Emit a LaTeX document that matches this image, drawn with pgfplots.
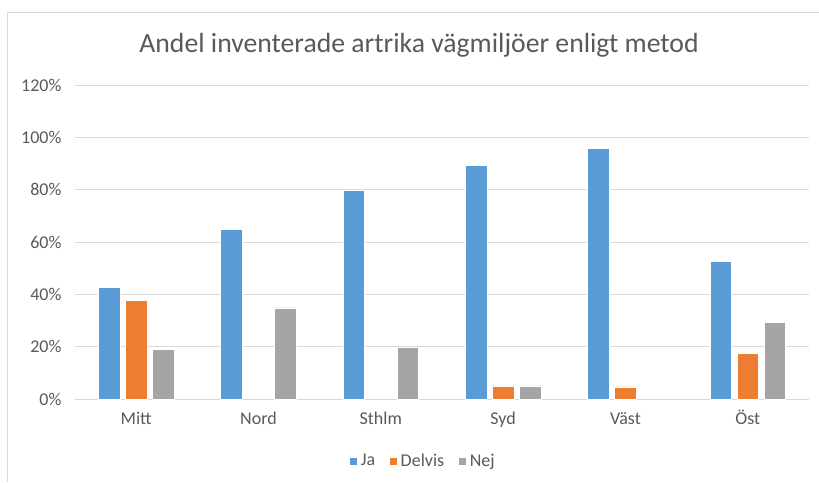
\documentclass[border=0pt]{standalone}
\usepackage{pgfplots}
\pgfplotsset{compat=1.18}
\usepackage{fontspec}
\setmainfont{Carlito}
\definecolor{cJa}{HTML}{5B9BD5}
\definecolor{cDel}{HTML}{ED7D31}
\definecolor{cNej}{HTML}{A5A5A5}
\definecolor{gridc}{HTML}{D9D9D9}
\definecolor{txt}{HTML}{595959}
\begin{document}
\begin{tikzpicture}[x=1pt,y=1pt]
\useasboundingbox (0,0) rectangle (819,482);
\draw[gridc, line width=0.8pt] (7,0) -- (7,470) -- (819,470);
\node[txt, font=\fontsize{27.7}{30}\selectfont] at (419,437) {Andel inventerade artrika vägmiljöer enligt metod};
\begin{axis}[
  at={(75pt,83pt)}, anchor=south west,
  scale only axis, width=734pt, height=314pt,
  xmin=-0.5, xmax=5.5, ymin=0, ymax=120,
  ybar=5.5pt, bar width=21.5pt,
  axis line style={draw=none},
  xmajorgrids=false, ymajorgrids=true, grid style={gridc, line width=0.8pt},
  major tick length=0pt,
  xtick={0,1,2,3,4,5},
  xticklabels={Mitt,Nord,Sthlm,Syd,Väst,Öst},
  ytick={0,20,...,120},
  yticklabel={\pgfmathprintnumber{\tick}\%},
  /pgf/number format/assume math mode=true,
  ticklabel style={font=\fontsize{18}{20}\selectfont, text=txt},
  xticklabel style={anchor=north, text height=13pt, text depth=4pt, yshift=-9pt},
  yticklabel style={xshift=-10pt},
  legend style={at={(0.474,-0.197)}, anchor=center, draw=none, legend columns=3,
    font=\fontsize{18}{20}\selectfont, text=txt,
    /tikz/every even column/.append style={column sep=12pt},
    /tikz/every odd column/.append style={column sep=1pt}},
  legend image code/.code={\fill[#1] (0pt,-4pt) rectangle (8pt,4pt);},
  every axis plot/.append style={draw=white, line width=0.6pt},
]
\addplot[fill=cJa] coordinates {(0,42.8) (1,64.8) (2,79.7) (3,89.2) (4,95.7) (5,52.6)};
\addplot[fill=cDel] coordinates {(0,37.8) (3,5.0) (4,4.6) (5,17.5)};
\addplot[fill=cNej] coordinates {(0,19.0) (1,34.8) (2,19.8) (3,5.0) (5,29.4)};
\legend{Ja,Delvis,Nej}
\end{axis}
\end{tikzpicture}
\end{document}
